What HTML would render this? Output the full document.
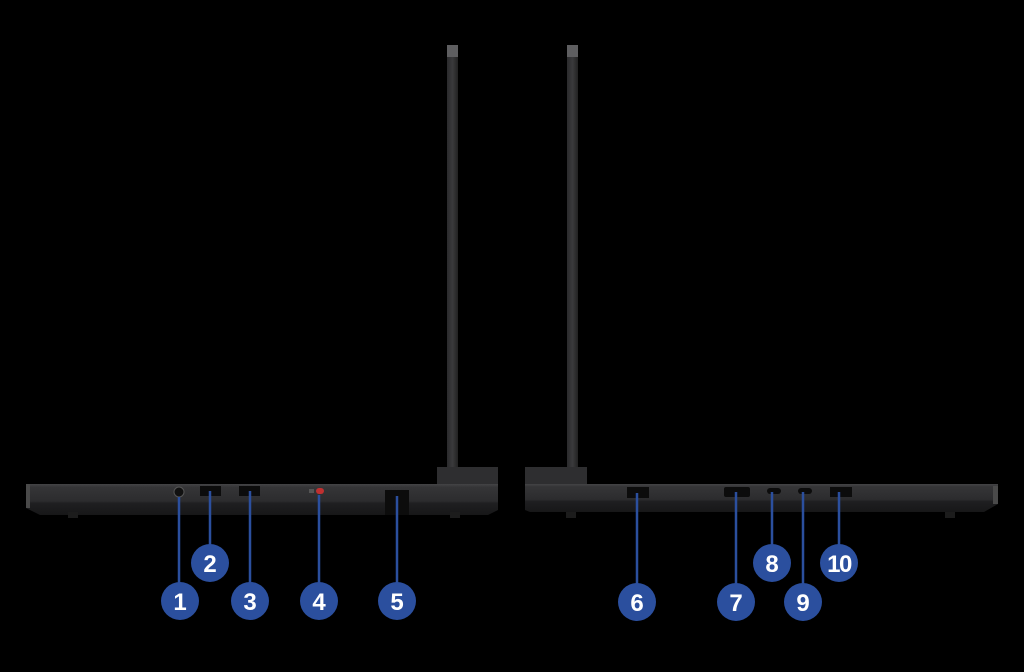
<!DOCTYPE html>
<html><head><style>html,body{margin:0;padding:0;background:#000;}svg{display:block}</style></head>
<body>
<svg width="1024" height="672" viewBox="0 0 1024 672" xmlns="http://www.w3.org/2000/svg">
<defs>
<linearGradient id="base" x1="0" y1="0" x2="0" y2="1">
<stop offset="0" stop-color="#444446"/><stop offset="0.1" stop-color="#353537"/><stop offset="0.55" stop-color="#2c2c2e"/><stop offset="0.62" stop-color="#1f1f21"/><stop offset="1" stop-color="#171718"/>
</linearGradient>
<linearGradient id="lid" x1="0" y1="0" x2="1" y2="0">
<stop offset="0" stop-color="#2a2a2c"/><stop offset="0.5" stop-color="#3a3a3c"/><stop offset="1" stop-color="#222"/>
</linearGradient>
</defs>
<rect width="1024" height="672" fill="#000"/>
<rect x="447" y="45" width="11" height="430" fill="url(#lid)"/>
<rect x="447" y="45" width="11" height="12" fill="#5e5e60"/>
<rect x="567" y="45" width="11" height="430" fill="url(#lid)"/>
<rect x="567" y="45" width="11" height="12" fill="#5e5e60"/>
<rect x="437" y="467" width="61" height="17" fill="#2e2e30"/>
<rect x="525" y="467" width="62" height="17" fill="#2e2e30"/>
<path d="M26 484 H498 V510 L488 515 H40 L26 508 Z" fill="url(#base)"/>
<rect x="26" y="484" width="4" height="24" fill="#4a4a4a"/>
<rect x="68" y="512" width="10" height="6" fill="#1c1c1c"/>
<rect x="450" y="512" width="10" height="6" fill="#1c1c1c"/>
<path d="M525 484 H998 V504 L984 512 H530 L525 510 Z" fill="url(#base)"/>
<rect x="993" y="486" width="5" height="18" fill="#4a4a4a"/>
<rect x="566" y="512" width="10" height="6" fill="#1c1c1c"/>
<rect x="945" y="512" width="10" height="6" fill="#1c1c1c"/>
<circle cx="179" cy="492" r="5" fill="#111" stroke="#555"/>
<rect x="200" y="486" width="21" height="10" fill="#0c0c0c"/>
<rect x="239" y="486" width="21" height="10" fill="#0c0c0c"/>
<rect x="309" y="489" width="5" height="4" fill="#555"/>
<rect x="316" y="488" width="8" height="6" rx="3" fill="#c03030"/>
<rect x="385" y="490" width="24" height="25" fill="#0c0c0c"/>
<rect x="627" y="487" width="22" height="11" fill="#0c0c0c"/>
<rect x="724" y="487" width="26" height="10" rx="2" fill="#0c0c0c"/>
<rect x="767" y="488" width="14" height="6" rx="3" fill="#0c0c0c"/>
<rect x="798" y="488" width="14" height="6" rx="3" fill="#0c0c0c"/>
<rect x="830" y="487" width="22" height="10" fill="#0c0c0c"/>
<g stroke="#2b4f9e" stroke-width="2.5">
<line x1="179" y1="497" x2="179" y2="585"/>
<line x1="210" y1="491" x2="210" y2="547"/>
<line x1="250" y1="491" x2="250" y2="585"/>
<line x1="319" y1="495" x2="319" y2="585"/>
<line x1="397" y1="496" x2="397" y2="585"/>
<line x1="637" y1="493" x2="637" y2="586"/>
<line x1="736" y1="492" x2="736" y2="586"/>
<line x1="772" y1="492" x2="772" y2="547"/>
<line x1="803" y1="492" x2="803" y2="586"/>
<line x1="839" y1="492" x2="839" y2="547"/>
</g>
<g fill="#2b4f9e">
<circle cx="180" cy="601" r="19"/><circle cx="210" cy="563" r="19"/><circle cx="250" cy="601" r="19"/>
<circle cx="319" cy="601" r="19"/><circle cx="397" cy="601" r="19"/><circle cx="637" cy="602" r="19"/>
<circle cx="736" cy="602" r="19"/><circle cx="772" cy="563" r="19"/><circle cx="803" cy="602" r="19"/>
<circle cx="839" cy="563" r="19"/>
</g>
<g fill="#fff" font-family="Liberation Sans, sans-serif" font-weight="bold" font-size="24" text-anchor="middle">
<text x="180" y="610">1</text><text x="210" y="572">2</text><text x="250" y="610">3</text>
<text x="319" y="610">4</text><text x="397" y="610">5</text><text x="637" y="611">6</text>
<text x="736" y="611">7</text><text x="772" y="572">8</text><text x="803" y="611">9</text>
<text x="839" y="572" letter-spacing="-1.5">10</text>
</g>
</svg>
</body></html>
